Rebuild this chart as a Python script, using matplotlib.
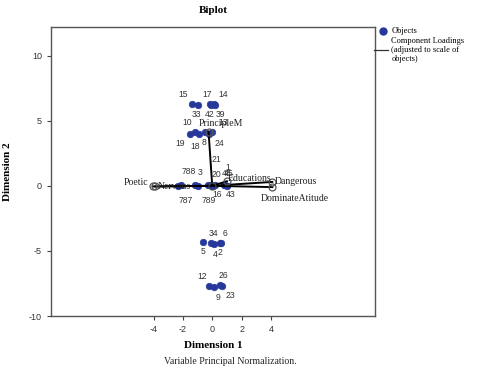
import matplotlib
matplotlib.use('Agg')
import matplotlib.pyplot as plt
from matplotlib.lines import Line2D

plt.rcParams['axes.unicode_minus'] = False

# object scores (Dimension 1, Dimension 2) with their case labels
obj_labels = ['15', '33', '17', '42', '14', '39',
              '19', '10', '18', '8', '24', '13',
              '787', '788', '3', '789', '20', '21', '16', '1', '48', '45', '43',
              '5', '34', '4', '6', '2',
              '12', '9', '26', '23']
obj_x = [-1.4, -1.0, -0.15, -0.05, 0.15, 0.2,
         -1.5, -1.2, -0.9, -0.5, -0.2, 0.0,
         -2.3, -2.1, -1.2, -1.0, -0.3, -0.1, 0.05, 0.2, 0.8, 0.9, 1.0,
         -0.6, -0.1, 0.1, 0.5, 0.6,
         -0.2, 0.1, 0.55, 0.7]
obj_y = [6.3, 6.2, 6.25, 6.2, 6.3, 6.2,
         4.0, 4.1, 4.0, 4.1, 4.0, 4.1,
         -0.05, 0.05, 0.05, -0.05, 0.1, 0.1, 0.0, 0.05, 0.1, 0.1, 0.0,
         -4.3, -4.4, -4.5, -4.4, -4.4,
         -7.7, -7.8, -7.6, -7.7]

# component loadings (scaled to objects)
var_names = ['PrincipleM', 'Poetic', 'Nervous', 'Educations', 'Dangerous', 'DominateAtitude']
var_x = [-0.25, -4.05, -3.9, 1.0, 4.1, 4.1]
var_y = [4.15, -0.05, -0.05, 0.35, 0.3, -0.1]

# label offsets in points (layout only)
obj_off = [(-6, 7), (-1, -7), (-2, 7), (-1, -7), (6, 7), (4, -7),
           (-7, -7), (-5, 7), (-3, -9), (-1, -7), (7, -7), (8, 7),
           (5, -10), (5, 10), (4, 9), (8, -10), (6, 7), (4, 18), (3, -6), (9, 13), (2, 8), (2, 8), (3, -6),
           (0, -7), (2, 7), (1, -7), (4, 7), (-1, -7),
           (-5, 7), (3, -7), (2, 7), (6, -7)]
var_off = [(9, 6), (-12, 3), (14, 0), (16, 2), (17, 0), (16, -8)]

fig = plt.figure(figsize=(4.89, 3.74), dpi=100)
ax = fig.add_axes([0.104, 0.155, 0.663, 0.773])

dot = '#26389a'
ax.scatter(obj_x, obj_y, s=22, color=dot, edgecolors=dot, linewidths=0.5, zorder=3)
for lab, x, y, off in zip(obj_labels, obj_x, obj_y, obj_off):
    ax.annotate(lab, (x, y), xytext=off, textcoords='offset points',
                ha='center', va='center', fontsize=6.2, color='#333333',
                family='Liberation Sans', zorder=5)

for name, x, y, off in zip(var_names, var_x, var_y, var_off):
    ax.plot([0, x], [0, y], color='black', linewidth=1.4, zorder=4)
    ax.plot(x, y, marker='o', ms=5, mfc='none', mec='#555555', mew=0.9, zorder=5)
    ax.annotate(name, (x, y), xytext=off, textcoords='offset points',
                ha='center', va='center', fontsize=7, family='Liberation Serif',
                color='#222222', zorder=6)
ax.plot(0, 0, marker='o', ms=5, mfc='none', mec='#444444', mew=0.9, zorder=5)

ax.set_xlim(-11, 11.1)
ax.set_ylim(-10, 12.2)
ax.set_xticks([-4, -2, 0, 2, 4])
ax.set_yticks([10, 5, 0, -5, -10])
ax.tick_params(labelsize=6.5, labelcolor='#333333', color='#444444', length=3, width=0.8)
for lab in ax.get_xticklabels() + ax.get_yticklabels():
    lab.set_family('Liberation Sans')
for s in ax.spines.values():
    s.set_color('#555555')
    s.set_linewidth(1.0)

ax.set_title('Biplot', fontsize=8, fontweight='bold', family='Liberation Serif', pad=10)
ax.set_xlabel('Dimension 1', fontsize=8, fontweight='bold', family='Liberation Serif', labelpad=5)
ax.set_ylabel('Dimension 2', fontsize=8, fontweight='bold', family='Liberation Serif', labelpad=12)
fig.text(0.47, 0.022, 'Variable Principal Normalization.', fontsize=7,
         family='Liberation Serif', ha='center', va='bottom', color='#222222')

# legend drawn beside the plot, SPSS style
fig.add_artist(Line2D([0.783], [0.917], marker='o', ms=5, color=dot, transform=fig.transFigure))
fig.add_artist(Line2D([0.765, 0.793], [0.867, 0.867], color='#333333', linewidth=0.9,
                      transform=fig.transFigure))
fig.text(0.8, 0.917, 'Objects', fontsize=6, family='Liberation Serif', va='center')
fig.text(0.8, 0.891, 'Component Loadings', fontsize=6, family='Liberation Serif', va='center')
fig.text(0.8, 0.867, '(adjusted to scale of', fontsize=6, family='Liberation Serif', va='center')
fig.text(0.8, 0.843, 'objects)', fontsize=6, family='Liberation Serif', va='center')

plt.savefig('out.png', dpi=100)
